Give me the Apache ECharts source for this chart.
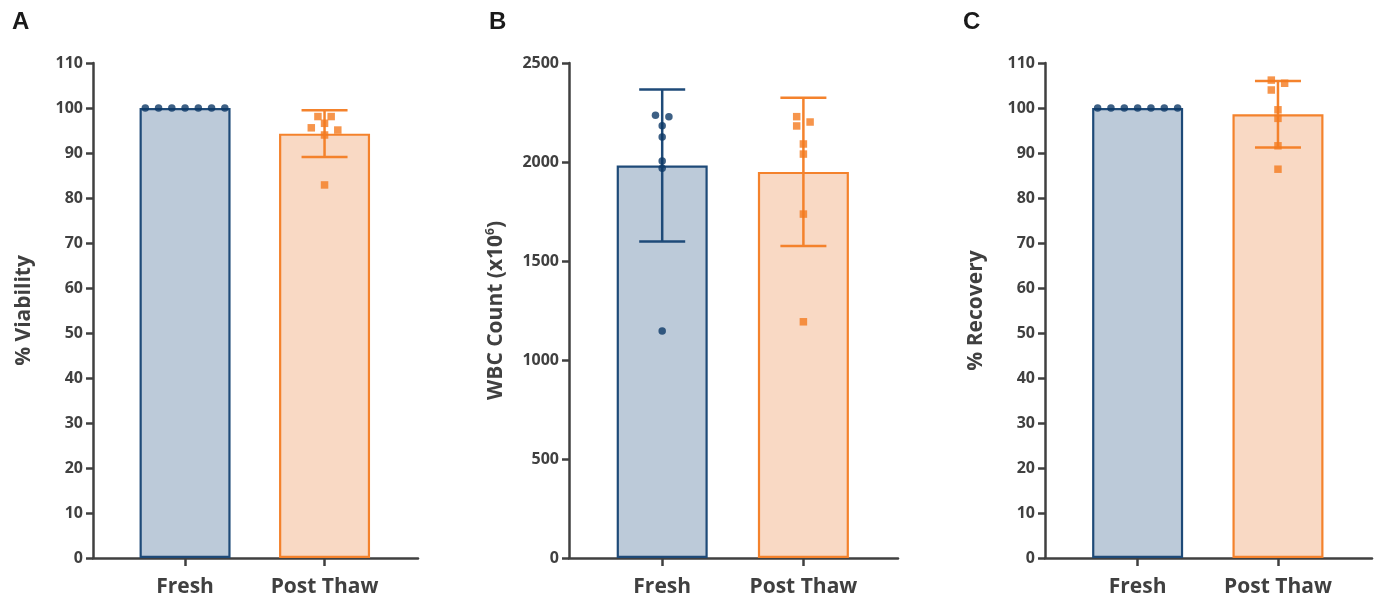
<!DOCTYPE html>
<html><head><meta charset="utf-8">
<script src="https://cdn.jsdelivr.net/npm/echarts@6/dist/echarts.min.js"></script>
<style>html,body{margin:0;padding:0;background:#fff}#c{width:1377px;height:598px}</style>
</head><body><div id="c"></div>
<script>
const categories = ['Fresh', 'Post Thaw'];
const panelLetters = ['A', 'B', 'C'];
const yNames = ['% Viability', 'WBC Count (x10{sup|6})', '% Recovery'];
const yMax = [110, 2500, 110];
const yInterval = [10, 500, 10];

// Panel A – % Viability
const viabilityMean = [100, 94.3];
const viabilitySD = [0, 5.2];
const viabilityFresh = [100, 100, 100, 100, 100, 100, 100];
const viabilityPost = [98.1, 98.1, 95.6, 96.6, 95.1, 94.0, 82.9];
const viabilityFreshSlot = [-3, -2, -1, 0, 1, 2, 3];
const viabilityPostSlot = [-0.5, 0.5, -1, 0, 1, 0, 0];

// Panel B – WBC Count (x10^6)
const wbcMean = [1982, 1950];
const wbcSD = [384, 374];
const wbcFresh = [2236, 2229, 2183, 2126, 2005, 1968, 1146];
const wbcPost = [2229, 2202, 2182, 2091, 2040, 1737, 1193];
const wbcFreshSlot = [-0.5, 0.5, 0, 0, 0, 0, 0];
const wbcPostSlot = [-0.5, 0.5, -0.5, 0, 0, 0, 0];

// Panel C – % Recovery
const recoveryMean = [100, 98.6];
const recoverySD = [0, 7.4];
const recoveryFresh = [100, 100, 100, 100, 100, 100, 100];
const recoveryPost = [106.2, 105.5, 104.0, 99.6, 97.7, 91.6, 86.4];
const recoveryFreshSlot = [-3, -2, -1, 0, 1, 2, 3];
const recoveryPostSlot = [-0.5, 0.5, -0.5, 0, 0, 0, 0];

const panels = [
  {mean: viabilityMean, sd: viabilitySD, fresh: viabilityFresh, post: viabilityPost, fSlot: viabilityFreshSlot, pSlot: viabilityPostSlot},
  {mean: wbcMean, sd: wbcSD, fresh: wbcFresh, post: wbcPost, fSlot: wbcFreshSlot, pSlot: wbcPostSlot},
  {mean: recoveryMean, sd: recoverySD, fresh: recoveryFresh, post: recoveryPost, fSlot: recoveryFreshSlot, pSlot: recoveryPostSlot}
];

// styling
const SLOT = 0.095;
const AXIS = '#404040';
const FILL = ['#bccad9', '#f9d9c4'];
const EDGE = ['#1e4a78', '#f4822c'];
const DOT = ['#0d3866', '#f47b1f'];
const FONT = '"Open Sans", "Liberation Sans", sans-serif';
const gridLefts = [93, 569, 1045];
const gridWidths = [325, 329, 327];
const letterLefts = [7, 484, 958];
const nameGaps = [58, 62, 58];

const grids = [], xAxes = [], yAxes = [], series = [], titles = [];

panels.forEach((p, i) => {
  grids.push({left: gridLefts[i], top: 63, width: gridWidths[i], height: 496});
  titles.push({text: panelLetters[i], left: letterLefts[i], top: 5,
    textStyle: {fontSize: 24, fontWeight: 'bold', color: '#1a1a1a', fontFamily: '"Liberation Sans", Arial, sans-serif'}});
  xAxes.push({
    gridIndex: i, type: 'value', min: -0.66, max: 1.67,
    splitLine: {show: false},
    axisLine: {show: true, onZero: false, lineStyle: {color: AXIS, width: 2.5}},
    axisTick: {show: true, customValues: [0, 1], length: 8, lineStyle: {color: AXIS, width: 2.5}},
    axisLabel: {customValues: [0, 1], formatter: v => categories[Math.round(v)], margin: 19,
      fontSize: 21, fontWeight: 'bold', color: AXIS, fontFamily: FONT}
  });
  yAxes.push({
    gridIndex: i, type: 'value', min: 0, max: yMax[i], interval: yInterval[i],
    splitLine: {show: false},
    axisLine: {show: true, onZero: false, lineStyle: {color: AXIS, width: 2.5}},
    axisTick: {show: true, length: 7, lineStyle: {color: AXIS, width: 2.5}},
    axisLabel: {margin: 10, fontSize: 16, fontWeight: 'bold', color: AXIS, fontFamily: FONT,
      formatter: v => String(v)},
    name: yNames[i], nameLocation: 'middle', nameGap: nameGaps[i],
    nameTextStyle: {fontSize: 21, fontWeight: 'bold', color: AXIS, fontFamily: FONT,
      rich: {sup: {fontSize: 12, fontWeight: 'bold', color: AXIS, fontFamily: FONT, verticalAlign: 'top', padding: [0, 0, 10, 0]}}}
  });
  // bars
  series.push({
    type: 'bar', xAxisIndex: i, yAxisIndex: i, barWidth: 91, z: 2,
    data: p.mean.map((m, k) => ({value: [k, m], itemStyle: {color: FILL[k], borderColor: EDGE[k], borderWidth: 2.2}}))
  });
  // error bars
  series.push({
    type: 'custom', xAxisIndex: i, yAxisIndex: i, z: 3, silent: true,
    data: p.mean.map((m, k) => [k, m - p.sd[k], m + p.sd[k], k]).filter((d, k) => p.sd[k] > 0),
    renderItem: function (params, api) {
      const x = api.value(0), k = api.value(3);
      const lo = api.coord([x, api.value(1)]), hi = api.coord([x, api.value(2)]);
      const hw = 23;
      const style = {stroke: EDGE[k], lineWidth: 2.5};
      return {type: 'group', children: [
        {type: 'line', shape: {x1: lo[0], y1: lo[1], x2: hi[0], y2: hi[1]}, style: style},
        {type: 'line', shape: {x1: lo[0] - hw, y1: lo[1], x2: lo[0] + hw, y2: lo[1]}, style: style},
        {type: 'line', shape: {x1: hi[0] - hw, y1: hi[1], x2: hi[0] + hw, y2: hi[1]}, style: style}
      ]};
    }
  });
  // individual points
  series.push({
    type: 'scatter', xAxisIndex: i, yAxisIndex: i, z: 4, symbol: 'circle', symbolSize: 7.5,
    itemStyle: {color: DOT[0]},
    data: p.fresh.map((v, j) => [0 + p.fSlot[j] * SLOT, v])
  });
  series.push({
    type: 'scatter', xAxisIndex: i, yAxisIndex: i, z: 4, symbol: 'rect', symbolSize: 7.5,
    itemStyle: {color: DOT[1]},
    data: p.post.map((v, j) => [1 + p.pSlot[j] * SLOT, v])
  });
});

const chart = echarts.init(document.getElementById('c'), null, {renderer: 'canvas'});
chart.setOption({
  animation: false,
  backgroundColor: '#ffffff',
  title: titles,
  grid: grids,
  xAxis: xAxes,
  yAxis: yAxes,
  series: series
});
</script>
</body></html>
